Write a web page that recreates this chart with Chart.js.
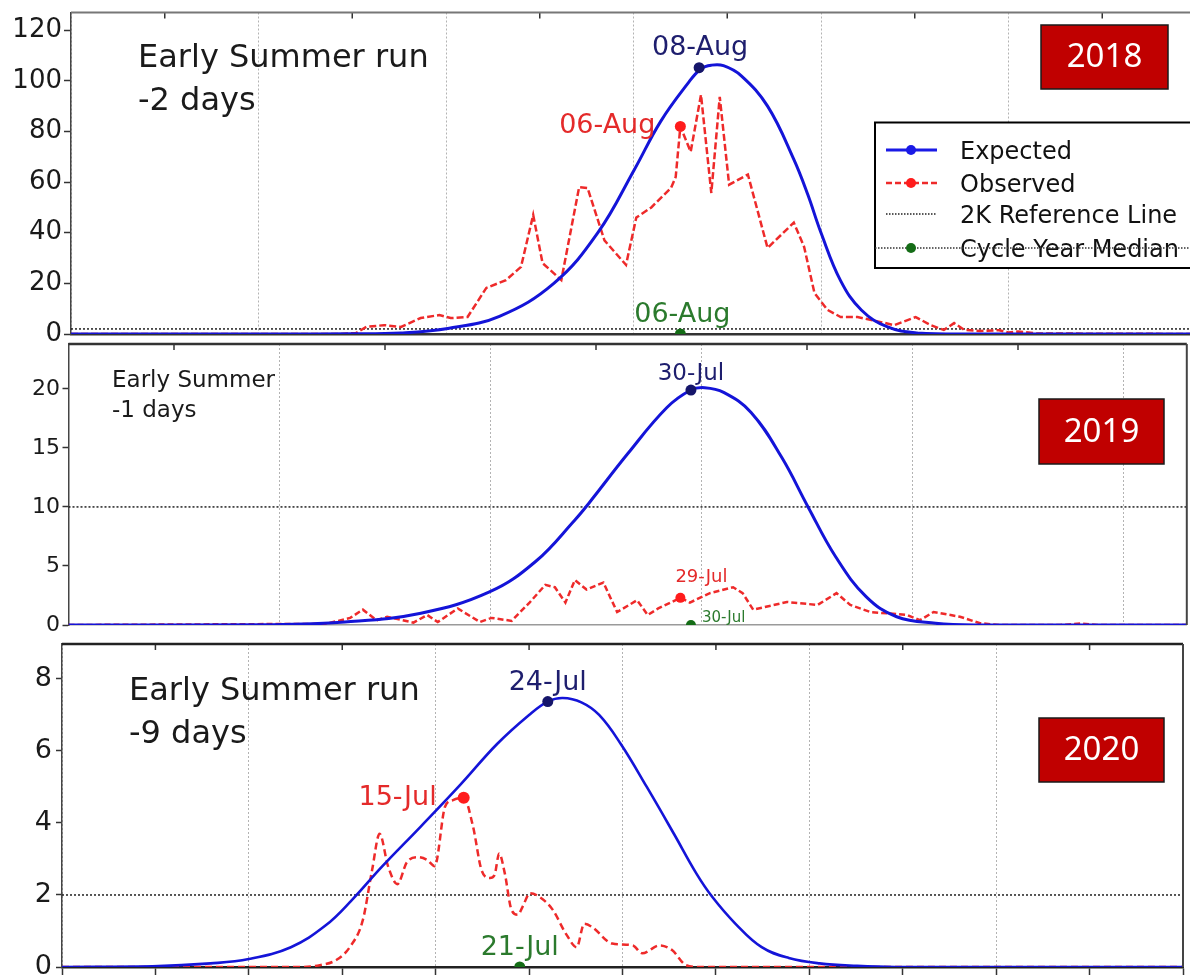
<!DOCTYPE html>
<html><head><meta charset="utf-8">
<script src="https://cdn.jsdelivr.net/npm/chart.js@4.4.1/dist/chart.umd.min.js"></script>
<style>
html,body{margin:0;padding:0;background:#fff;overflow:hidden;}
#wrap{position:relative;width:1190px;height:980px;overflow:hidden;background:#fff;}
#wrap canvas{position:absolute;left:0;}
</style></head><body>
<div id="wrap">
<canvas id="c1" width="1230" height="345" style="top:0px"></canvas>
<canvas id="c2" width="1190" height="310" style="top:334px"></canvas>
<canvas id="c3" width="1190" height="346" style="top:634px"></canvas>
</div>
<script>
// ================= DATA (x = day of year) =================
// ---- 2018 ----
const xTicks2018 = [153,163,173,183,193,203,213,223,233,243,253,263,273];
const yTicks2018 = [0,20,40,60,80,100,120];
const expDays2018 = [153,175,183,188.2,193.2,198.7,204.5,209.2,213.1,215.9,218.8,220.2,221.3,222.6,224.5,227.3,230.1,231.6,233,235.1,237.3,240.1,243.3,248,273];
const expVals2018 = [0,0,0.05,0.4,2.2,7,20,40,65,84,99,104.8,106.2,106,102,90,69,55,40,21,9.5,2.8,0.4,0,0];
const obsDays2018 = [153,181.8,183.4,184.5,186.4,188.2,190.3,192.3,193.5,195.3,197.3,199.4,201,202.3,203.3,205.3,207.2,208.1,209.9,212.2,213.3,214.9,217,217.5,218,219.1,220.2,221.3,222.2,223.2,225.2,227.3,230.1,231.2,232.3,233.7,235.1,236.9,239.4,240.8,243.1,244.7,246.1,247.2,248.3,250,252,253,254,256,273];
const obsVals2018 = [0,0,0.4,2.8,3.5,2.8,6.3,7.5,6.3,6.7,18.2,21.3,26.5,47,28,21.3,58,57.7,37,27.3,46,50,57.7,62,82,72,94.5,55.7,93.7,59,63,34,44,34.4,16.2,9.5,6.7,6.7,4.7,3.5,6.7,3.5,1.6,4.3,1.6,1.2,1.5,0.6,1,0.2,0];
const refDays2018 = [153,273];
const refVals2018 = [2,2];
const markDays2018 = [220,218,218];          // expected, observed, cycle-year median
const markVals2018 = [105.2,82,0];
const markLabels2018 = ['08-Aug','06-Aug','06-Aug'];

// ---- 2019 ----
const xTicks2019 = [152,162,172,182,192,202,212,222,232,242,252];
const yTicks2019 = [0,5,10,15,20];
const expDays2019 = [152,171,178.2,185.4,191.9,196.3,200,201.4,205,208.7,211,212.3,214.1,216.7,219.6,222.1,224.7,227.6,230.5,234.2,238,258];
const expVals2019 = [0,0.02,0.25,1,2.8,5.4,8.9,10.4,14.5,18.4,19.9,20.1,19.7,18,14.2,10,5.8,2.4,0.7,0.15,0,0];
const obsDays2019 = [152,176.4,178.7,179.9,181.2,182.2,184.7,186,187,188.9,191,192.1,194,195.7,197.2,198.1,199.1,200,201.1,202.7,204,205.9,206.9,207.9,210,210.9,212.8,215,215.9,216.9,220.1,223,224.8,226.1,228,231.5,232.7,234,236.5,238.4,240.3,246,247.9,249.5,258];
const obsVals2019 = [0,0.1,0.6,1.3,0.4,0.7,0.2,0.85,0.25,1.4,0.25,0.6,0.35,1.9,3.4,3.2,1.9,3.8,3,3.6,1.1,2.1,0.85,1.4,2.3,1.9,2.7,3.2,2.7,1.3,1.95,1.7,2.7,1.7,1.1,0.85,0.4,1.1,0.7,0.15,0,0,0.12,0,0];
const refDays2019 = [152,258];
const refVals2019 = [10,10];
const markDays2019 = [211,210,211];
const markVals2019 = [19.9,2.3,0];
const markLabels2019 = ['30-Jul','29-Jul','30-Jul'];

// ---- 2020 ----
const xTicks2020 = [154,164,174,184,194,204,214,224,234,244,254,264,274];
const yTicks2020 = [0,2,4,6,8];
const expDays2020 = [154,163.7,169.9,174,178.5,182.2,185,188.3,192.4,196.6,200.6,204,206,207.6,209.6,211.5,213.8,216.6,219.5,221.9,223.6,226.1,228.9,231.8,235.1,239.1,243.2,274];
const expVals2020 = [0,0.02,0.1,0.22,0.55,1.15,1.85,2.8,3.9,5.05,6.2,7.0,7.37,7.47,7.35,7.0,6.2,5,3.7,2.6,1.95,1.2,0.55,0.25,0.1,0.03,0,0];
const obsDays2020 = [154,179.5,181.6,183.4,184.8,186.2,187.2,188,188.9,189.9,190.9,192.1,193.1,193.9,195,195.8,197,198,198.9,199.8,200.3,200.8,201.4,202.1,202.8,203.3,204.1,205.1,206.5,208,209.1,209.9,210.8,212.9,215.1,216.1,218,219.3,220.8,222.2,274];
const obsVals2020 = [0,0,0.05,0.2,0.55,1.3,2.7,3.7,2.8,2.3,2.9,3.05,2.97,2.8,4.45,4.63,4.7,3.9,2.7,2.47,2.55,3.15,2.6,1.6,1.45,1.67,2.05,1.95,1.6,0.9,0.55,1.2,1.1,0.65,0.6,0.38,0.6,0.47,0.05,0,0];
const refDays2020 = [154,274];
const refVals2020 = [2,2];
const markDays2020 = [206,197,203];
const markVals2020 = [7.37,4.7,0];
const markLabels2020 = ['24-Jul','15-Jul','21-Jul'];

const seriesNames = ['2K Reference Line','Observed','Expected','Expected date','Observed date','Cycle Year Median'];

// ================= STYLE =================
const RED = '#ee2a2a', RED_DOT = '#ff1c1c', RED_T = '#e42a2a';
const BLUE = '#1414d8', BLUE_LEG = '#1a1ae6';
const NAVY = '#15156a', NAVY_T = '#1e1e6e';
const GREEN = '#146c16', GREEN_T = '#2b7a2d';
const GRID = '#b3b3b3';
const FONT = "'DejaVu Sans'";

function pts(xs, ys) { return xs.map((x, i) => ({x: x, y: ys[i]})); }

const deco = {
  id: 'deco',
  afterDatasetsDraw(chart, args, o) {
    const ctx = chart.ctx, a = chart.chartArea, xs = chart.scales.x;
    ctx.save();
    ctx.setLineDash([]);
    if (o.innerTicks) {
      ctx.strokeStyle = '#333'; ctx.lineWidth = 1.5;
      xs.ticks.forEach(t => {
        if (Math.abs((t.value - xs.min) % 20 - 10) < 0.01) {
          const px = xs.getPixelForValue(t.value);
          ctx.beginPath(); ctx.moveTo(px, a.top); ctx.lineTo(px, a.top + o.innerTicks); ctx.stroke();
        }
      });
    }
    if (o.top) {
      ctx.strokeStyle = o.top.color; ctx.lineWidth = o.top.width;
      ctx.beginPath(); ctx.moveTo(a.left, a.top); ctx.lineTo(a.right, a.top); ctx.stroke();
    }
    if (o.right) {
      ctx.strokeStyle = o.right.color; ctx.lineWidth = o.right.width;
      ctx.beginPath(); ctx.moveTo(a.right, a.top); ctx.lineTo(a.right, a.bottom); ctx.stroke();
    }
    (o.pointLabels || []).forEach(l => {
      const el = chart.getDatasetMeta(l.ds).data[0];
      ctx.font = l.size + 'px ' + FONT; ctx.fillStyle = l.color;
      ctx.textAlign = l.align; ctx.textBaseline = 'alphabetic';
      ctx.fillText(l.text, el.x + l.dx, el.y + l.dy);
    });
    (o.texts || []).forEach(t => {
      ctx.font = t.size + 'px ' + FONT; ctx.fillStyle = '#1a1a1a';
      ctx.textAlign = 'left'; ctx.textBaseline = 'alphabetic';
      ctx.fillText(t.text, t.x, t.y);
    });
    if (o.legend) {
      const L = o.legend;
      ctx.fillStyle = '#fff'; ctx.fillRect(L.x, L.y, L.w, L.h);
      ctx.strokeStyle = '#000'; ctx.lineWidth = 2; ctx.setLineDash([]);
      ctx.strokeRect(L.x, L.y, L.w, L.h);
      L.items.forEach((it, i) => {
        const y = L.rows[i];
        ctx.font = L.size + 'px ' + FONT; ctx.fillStyle = '#111';
        ctx.textAlign = 'left'; ctx.textBaseline = 'alphabetic';
        ctx.fillText(chart.data.datasets[it.ds].label, L.tx, y + L.base);
        ctx.strokeStyle = it.line; ctx.lineWidth = it.w; ctx.setLineDash(it.dash);
        ctx.beginPath();
        ctx.moveTo(it.full ? L.x : L.sx1, y); ctx.lineTo(it.full ? L.x + L.w : L.sx2, y); ctx.stroke();
        ctx.setLineDash([]);
        if (it.dot) { ctx.fillStyle = it.dot; ctx.beginPath(); ctx.arc(L.dotX, y, it.r, 0, Math.PI * 2); ctx.fill(); }
      });
    }
    if (o.box) {
      const B = o.box;
      ctx.fillStyle = '#c00000'; ctx.fillRect(B.x, B.y, B.w, B.h);
      ctx.strokeStyle = '#1a1a1a'; ctx.lineWidth = 1.5; ctx.strokeRect(B.x, B.y, B.w, B.h);
      ctx.fillStyle = '#fff'; ctx.font = '33px "Noto Sans"';
      ctx.textAlign = 'center'; ctx.textBaseline = 'middle';
      ctx.fillText(B.text, B.x + B.w / 2, B.y + B.h / 2 + 1);
    }
    ctx.restore();
  }
};

function makePanel(id, P) {
  const datasets = [
    {label: seriesNames[0], data: pts(P.refDays, P.refVals), borderColor: '#111', borderWidth: 1.4, borderDash: [2, 2], pointRadius: 0, order: 3},
    {label: seriesNames[1], data: pts(P.obsDays, P.obsVals), borderColor: RED, borderWidth: P.obsW, borderDash: P.obsDash, pointRadius: 0, cubicInterpolationMode: P.obsMode, order: 2},
    {label: seriesNames[2], data: pts(P.expDays, P.expVals), borderColor: BLUE, borderWidth: P.expW, pointRadius: 0, tension: 0.4, order: 1},
    {label: seriesNames[3], data: [{x: P.mDays[0], y: P.mVals[0]}], showLine: false, pointRadius: P.mR[0], pointBackgroundColor: NAVY, pointBorderColor: NAVY, pointBorderWidth: 0, order: 0},
    {label: seriesNames[4], data: [{x: P.mDays[1], y: P.mVals[1]}], showLine: false, pointRadius: P.mR[1], pointBackgroundColor: RED_DOT, pointBorderColor: RED_DOT, pointBorderWidth: 0, order: 0},
    {label: seriesNames[5], data: [{x: P.mDays[2], y: P.mVals[2]}], showLine: false, pointRadius: P.mR[2], pointBackgroundColor: GREEN, pointBorderColor: GREEN, pointBorderWidth: 0, order: 0}
  ];
  const colors = [NAVY_T, RED_T, GREEN_T];
  const pointLabels = P.lab.map((l, i) => Object.assign({ds: 3 + i, text: P.mLabels[i], color: colors[i]}, l));
  return new Chart(document.getElementById(id), {
    type: 'line',
    data: {datasets},
    plugins: [deco],
    options: {
      responsive: false, animation: false, devicePixelRatio: 1, events: [],
      layout: {autoPadding: false, padding: {top: P.padTop, right: P.padRight, bottom: 0, left: 0}},
      plugins: {
        legend: {display: false}, tooltip: {enabled: false},
        deco: {innerTicks: 6, top: P.topLine, right: P.rightLine, pointLabels, texts: P.texts, legend: P.legend, box: P.box}
      },
      scales: {
        x: {
          type: 'linear', min: P.xMin, max: P.xMax,
          afterBuildTicks: s => { s.ticks = P.xTicks.map(v => ({value: v})); },
          afterFit: s => { s.height = P.xH; s.paddingLeft = 0; s.paddingRight = 0; },
          ticks: {display: false},
          grid: {
            color: c => (c.tick && Math.abs((c.tick.value - P.xMin) % 20) < 0.01) ? GRID : 'rgba(0,0,0,0)',
            lineWidth: 1, drawTicks: P.bottomTicks, tickLength: 8, tickColor: '#333', tickWidth: 1.5
          },
          border: {display: true, color: P.bottomColor, width: P.bottomWidth, dash: [2, 2]}
        },
        y: {
          min: 0, max: P.yMax,
          afterBuildTicks: s => { s.ticks = P.yTicks.map(v => ({value: v})); },
          afterFit: s => { s.width = P.yW; s.paddingTop = 0; s.paddingBottom = 0; },
          ticks: {font: {family: FONT, size: P.yFont}, color: '#1a1a1a', padding: P.yPad},
          grid: {drawOnChartArea: false, drawTicks: true, tickLength: P.yTick, tickColor: '#333', tickWidth: 1.5},
          border: {display: true, color: '#444', width: 1.5}
        }
      }
    }
  });
}

makePanel('c1', {
  xMin: 153, xMax: 273, xTicks: xTicks2018, yMax: 127, yTicks: yTicks2018,
  expDays: expDays2018, expVals: expVals2018, obsDays: obsDays2018, obsVals: obsVals2018,
  refDays: refDays2018, refVals: refVals2018, mDays: markDays2018, mVals: markVals2018, mLabels: markLabels2018,
  mR: [5.5, 5.5, 5.5], obsW: 2.5, obsDash: [7, 3], obsMode: 'default', expW: 3,
  yW: 71, xH: 11, padTop: 12.5, padRight: 34, yFont: 26, yTick: 7, yPad: 2,
  bottomTicks: false, bottomColor: '#333', bottomWidth: 2.5,
  topLine: {color: '#777', width: 2}, rightLine: null,
  lab: [
    {size: 27, align: 'center', dx: 1, dy: -13},
    {size: 27, align: 'right', dx: -25, dy: 6.5},
    {size: 27, align: 'center', dx: 2, dy: -12}
  ],
  texts: [{text: 'Early Summer run', x: 138, y: 67, size: 32}, {text: '-2 days', x: 138, y: 110, size: 32}],
  legend: {
    x: 875, y: 122.5, w: 340, h: 145.5, rows: [150, 183, 214, 248], sx1: 886, sx2: 937, dotX: 911, tx: 960, size: 24, base: 8.5,
    items: [
      {ds: 2, line: BLUE_LEG, w: 3, dash: [], dot: BLUE_LEG, r: 5},
      {ds: 1, line: RED, w: 2.5, dash: [6, 3], dot: RED_DOT, r: 5},
      {ds: 0, line: '#222', w: 1.5, dash: [1.5, 1.5]},
      {ds: 5, line: '#333', w: 1.3, dash: [1.5, 1.5], full: true, dot: GREEN, r: 5}
    ]
  },
  box: {x: 1041, y: 25, w: 127, h: 64, text: '2018'}
});

makePanel('c2', {
  xMin: 152, xMax: 258, xTicks: xTicks2019, yMax: 23.8, yTicks: yTicks2019,
  expDays: expDays2019, expVals: expVals2019, obsDays: obsDays2019, obsVals: obsVals2019,
  refDays: refDays2019, refVals: refVals2019, mDays: markDays2019, mVals: markVals2019, mLabels: markLabels2019,
  mR: [5.5, 5, 5], obsW: 2.5, obsDash: [6, 3], obsMode: 'default', expW: 3,
  yW: 68.5, xH: 19, padTop: 10, padRight: 3.2, yFont: 22, yTick: 6, yPad: 2.5,
  bottomTicks: false, bottomColor: '#9a9a9a', bottomWidth: 1.5,
  topLine: {color: '#333', width: 2.5}, rightLine: {color: '#444', width: 2},
  lab: [
    {size: 23, align: 'center', dx: 0, dy: -10},
    {size: 18, align: 'left', dx: -5, dy: -16},
    {size: 15, align: 'left', dx: 11, dy: -3}
  ],
  texts: [{text: 'Early Summer', x: 112, y: 53, size: 23}, {text: '-1 days', x: 112, y: 83, size: 23}],
  legend: null,
  box: {x: 1039, y: 65, w: 125, h: 65, text: '2019'}
});

makePanel('c3', {
  xMin: 154, xMax: 274, xTicks: xTicks2020, yMax: 8.97, yTicks: yTicks2020,
  expDays: expDays2020, expVals: expVals2020, obsDays: obsDays2020, obsVals: obsVals2020,
  refDays: refDays2020, refVals: refVals2020, mDays: markDays2020, mVals: markVals2020, mLabels: markLabels2020,
  mR: [5.5, 6, 5.5], obsW: 2.5, obsDash: [7, 4], obsMode: 'monotone', expW: 2.6,
  yW: 62, xH: 13, padTop: 10, padRight: 7, yFont: 27, yTick: 6, yPad: 4,
  bottomTicks: true, bottomColor: '#222', bottomWidth: 2.5,
  topLine: {color: '#222', width: 2.5}, rightLine: {color: '#444', width: 2},
  lab: [
    {size: 27, align: 'center', dx: 0, dy: -12},
    {size: 27, align: 'right', dx: -27, dy: 7},
    {size: 27, align: 'center', dx: 0, dy: -12}
  ],
  texts: [{text: 'Early Summer run', x: 129, y: 66, size: 32}, {text: '-9 days', x: 129, y: 109, size: 32}],
  legend: null,
  box: {x: 1039, y: 84, w: 125, h: 64, text: '2020'}
});
</script>
</body></html>
